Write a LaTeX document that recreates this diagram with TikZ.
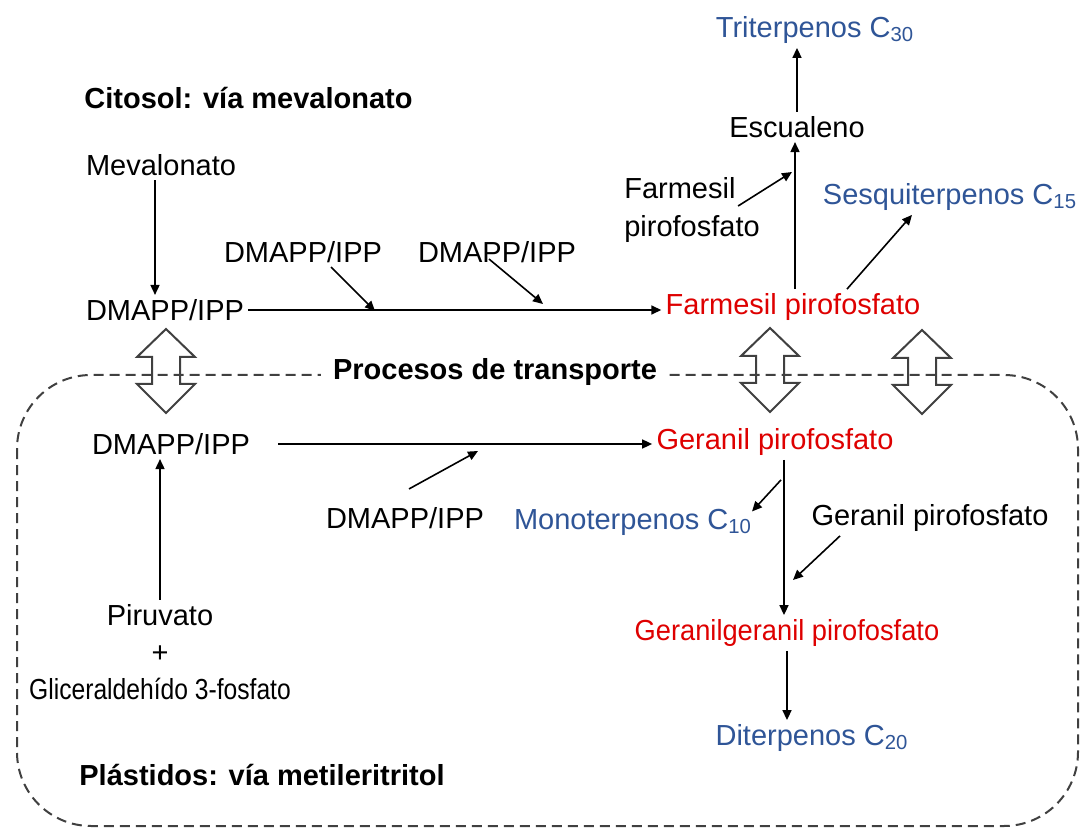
\documentclass[tikz,border=0pt]{standalone}
\usepackage{fontspec}
\setmainfont{Liberation Sans}
\usepackage{tikz}
\usetikzlibrary{arrows.meta,positioning}
\definecolor{terpblue}{RGB}{47,85,151}
\definecolor{terpred}{RGB}{222,0,0}
\definecolor{boxgray}{RGB}{64,64,64}

\begin{document}
\begin{tikzpicture}[
  x=0.5pt, y=-0.5pt,
  font=\fontsize{14.5}{19}\selectfont,
  every node/.style={inner sep=2pt},
  redlbl/.style={text=terpred},
  bluelbl/.style={text=terpblue},
  hdr/.style={font=\fontsize{14.5}{19}\selectfont\bfseries},
  ar/.style={-{Triangle[length=5pt,width=4.5pt]}, line width=0.8pt},
  xfer/.style={draw=boxgray, line width=1pt, line join=miter},
]
\useasboundingbox (0,0) rectangle (1081,828);

% plastid boundary
\draw[boxgray, dash pattern=on 5pt off 3pt, line width=1pt, rounded corners=37pt]
  (17,375) rectangle (1078,826);

\node[hdr, anchor=west] (cito) at (80,98) {Citosol: vía mevalonato};
\node (meva) at (161,165) {Mevalonato};
\node (dmA) at (165,310) {DMAPP/IPP};
\node (dmB) at (303,252) {DMAPP/IPP};
\node (dmC) at (497,252) {DMAPP/IPP};
\node[redlbl] (farn) at (793,307) {Farmesil pirofosfato};
\node[align=left] (farn2) at (692,210) {Farmesil\\pirofosfato};
\node (escu) at (797,127) {Escualeno};
\node[bluelbl] (trit) at (815,30) {Triterpenos C\textsubscript{30}};
\node[bluelbl] (sesq) at (950,197) {Sesquiterpenos C\textsubscript{15}};
\node[hdr, fill=white, inner xsep=6pt] (proc) at (495,372) {Procesos de transporte};
\node (dmD) at (171,444) {DMAPP/IPP};
\node[redlbl] (gera) at (775,442) {Geranil pirofosfato};
\node (dmE) at (405,518) {DMAPP/IPP};
\node[bluelbl] (mono) at (633,522) {Monoterpenos C\textsubscript{10}};
\node (gera2) at (930,518) {Geranil pirofosfato};
\node[redlbl] (ggpp) at (787,633) {\scalebox{0.94}[1]{Geranilgeranil pirofosfato}};
\node[bluelbl] (dite) at (812,738) {Diterpenos C\textsubscript{20}};
\node[align=center, font=\fontsize{14.5}{18.5}\selectfont] (piru) at (160,652)
     {Piruvato\\+\\\scalebox{0.85}[1]{Gliceraldehído 3-fosfato}};
\node[hdr, anchor=west] (plas) at (75,775) {Plástidos: vía metileritritol};

% points where side substrates join
\coordinate (jB) at (375,311);
\coordinate (jC) at (543,304);
\coordinate (jE) at (478,451);
\coordinate (jF) at (792,172);
\coordinate (jG) at (793,580);

\draw[ar] (escu.north) -- (escu.north |- trit.south);
\draw[ar] ([xshift=1pt]farn.north) -- ([xshift=1pt]farn.north |- escu.south);
\draw[ar] ([xshift=-13pt,yshift=2pt]farn2.east) -- (jF);
\draw[ar] ([xshift=27pt]farn.north) -- ([xshift=-19pt]sesq.south);
\draw[ar] ([xshift=-3pt]meva.south) -- ([xshift=-3pt]meva.south |- dmA.north);
\draw[ar] (dmA.east) -- (dmA.east -| farn.west);
\draw[ar] ([xshift=14pt]dmB.south) -- (jB);
\draw[ar] ([xshift=-4pt,yshift=4pt]dmC.south) -- (jC);
\draw[ar] ([xshift=12pt]dmD.east) -- (dmD.east -| gera.west);
\draw[ar] ([xshift=2pt,yshift=7pt]dmE.north) -- (jE);
\draw[ar] ([xshift=3pt,yshift=-10pt]gera.south) -- ([xshift=59.5pt,yshift=-3.5pt]mono.north);
\draw[ar] ([xshift=4.5pt]gera.south) -- ([xshift=4.5pt]gera.south |- ggpp.north);
\draw[ar] ([xshift=-45pt]gera2.south) -- (jG);
\draw[ar] (ggpp.south) -- (ggpp.south |- dite.north);
\draw[ar] (piru.north) -- (piru.north |- dmD.south);

% transport arrows
\foreach \cx/\cy in {166/371, 770/370, 922/372}
  \draw[xfer, shift={(\cx,\cy)}] (0,-42) -- (29,-14) -- (14,-14) -- (14,13) -- (29,13)
    -- (0,42) -- (-29,13) -- (-14,13) -- (-14,-14) -- (-29,-14) -- cycle;
\end{tikzpicture}
\end{document}
